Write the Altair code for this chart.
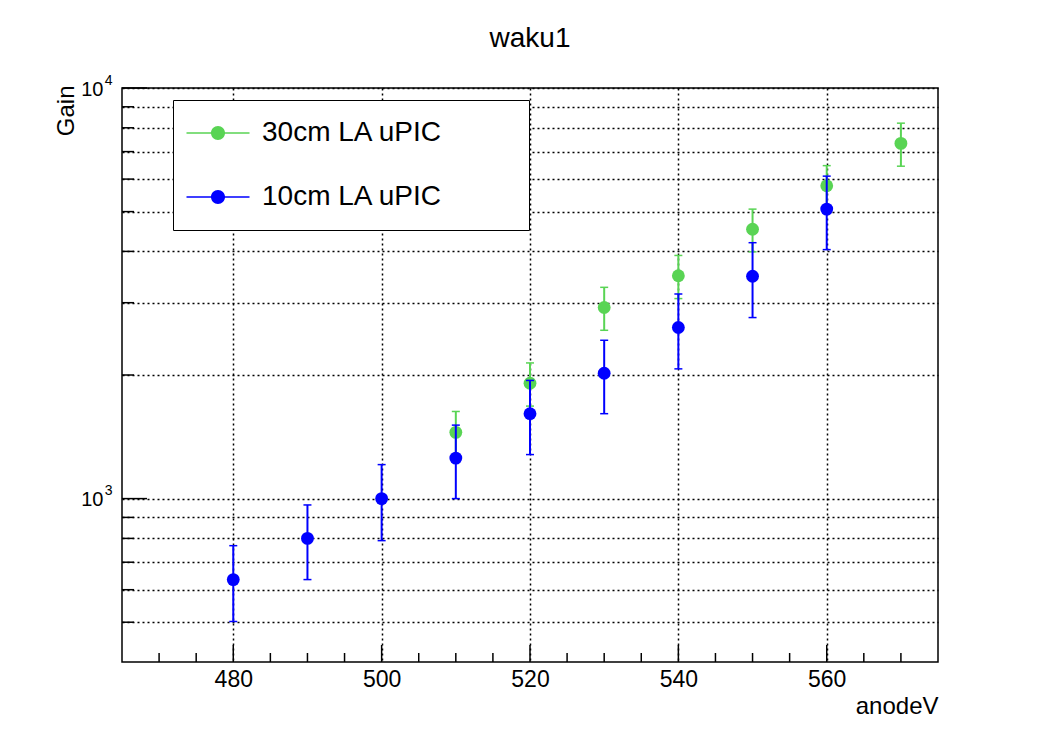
import altair as alt
import pandas as pd

# ---------------- data ----------------
series_names = ["30cm LA uPIC", "10cm LA uPIC"]
series_colors = ["#59D454", "#0000FF"]

volt_30 = [510, 520, 530, 540, 550, 560, 570]
gain_30 = [1450, 1910, 2920, 3490, 4530, 5780, 7330]
err_30 = [180, 230, 350, 420, 540, 690, 880]

volt_10 = [480, 490, 500, 510, 520, 530, 540, 550, 560]
gain_10 = [635, 800, 1000, 1255, 1610, 2020, 2610, 3480, 5070]
err_10 = [133, 165, 210, 255, 330, 410, 540, 720, 1030]

x_grid = [480, 500, 520, 540, 560]
x_minor = [470, 475, 485, 490, 495, 505, 510, 515, 525, 530, 535, 545, 550, 555, 565, 570]
y_grid = [500, 600, 700, 800, 900, 1000, 2000, 3000, 4000, 5000, 6000, 7000, 8000, 9000, 10000]
y_major = [1000, 10000]
y_minor = [500, 600, 700, 800, 900, 2000, 3000, 4000, 5000, 6000, 7000, 8000, 9000]
y_label_base = "10"
y_label_exp = {1000: "3", 10000: "4"}

W, H = 816, 574
FONT = "Liberation Sans"

xs = alt.Scale(domain=[465, 575], nice=False, zero=False)
ys = alt.Scale(type="log", domain=[400, 10000], nice=False)
cs = alt.Scale(domain=series_names, range=series_colors)

x_axis = alt.Axis(
    values=x_grid, grid=True, gridDash=[2, 3], gridColor="black", gridWidth=1.5, gridOpacity=1,
    ticks=False, domain=False, labelFontSize=23, labelFont=FONT, labelColor="black",
    labelPadding=6, labelFlush=False, format="d",
    title="anodeV", titleFont=FONT, titleFontSize=24, titleFontWeight="normal", titleColor="black",
    titleX=W, titleY=51, titleAlign="right", titleBaseline="alphabetic",
)
exp_expr = " : ".join(f"datum.value == {k} ? '{v}'" for k, v in y_label_exp.items()) + " : ''"
base_expr = " || ".join(f"datum.value == {k}" for k in y_label_exp) + f" ? '{y_label_base}' : ''"

y_axis = alt.Axis(
    orient="left",
    values=y_grid, grid=True, gridDash=[2, 3], gridColor="black", gridWidth=1.5, gridOpacity=1,
    ticks=False, domain=False, labelFontSize=20, labelFont=FONT, labelColor="black",
    labelPadding=19, labelFlush=False, labelOffset=1, labelExpr=base_expr,
    title="Gain", titleFont=FONT, titleFontSize=24, titleFontWeight="normal", titleColor="black",
    titleAngle=270, titleX=-49, titleY=-3, titleAlign="right", titleBaseline="alphabetic",
)
y_axis_exp = alt.Axis(
    orient="left",
    values=list(y_label_exp.keys()), grid=False,
    ticks=False, domain=False, labelFontSize=14, labelFont=FONT, labelColor="black",
    labelPadding=10, labelFlush=False, labelOffset=-8, labelExpr=exp_expr, title=None,
)


def frame(v, g, e, name):
    return pd.DataFrame({
        "V": v, "gain": g,
        "lo": [a - b for a, b in zip(g, e)],
        "hi": [a + b for a, b in zip(g, e)],
        "series": [name] * len(v),
    })


df30 = frame(volt_30, gain_30, err_30, series_names[0])
df10 = frame(volt_10, gain_10, err_10, series_names[1])

# legend symbol: short line with a filled circle in the middle (ROOT style)
LEG_SYMBOL = ("M-4.5,-0.11H-0.9V0.11H-4.5Z"
              "M0.9,-0.11H4.5V0.11H0.9Z"
              "M1,0A1,1,0,1,1,-1,0A1,1,0,1,1,1,0Z")

# an invisible (white on white) title on the right widens the box like ROOT's TLegend
legend = alt.Legend(
    orient="none", legendX=51, legendY=12,
    title="MM", titleOrient="right", titleColor="white", titleFontSize=28,
    titleFont=FONT, titlePadding=20,
    padding=19, rowPadding=36,
    labelFont=FONT, labelFontSize=28, labelColor="black", labelOffset=30, labelLimit=500,
    symbolType=LEG_SYMBOL, symbolSize=196, symbolStrokeWidth=0, symbolOffset=12, symbolOpacity=1,
    strokeColor="black", fillColor="white",
)


def series_layers(df, color):
    base = alt.Chart(df)
    X = alt.X("V:Q", scale=xs, axis=x_axis)
    bar = base.mark_rule(strokeWidth=2, color=color).encode(
        x=X, y=alt.Y("lo:Q", scale=ys, axis=None), y2="hi:Q")
    cap_lo = base.mark_rule(strokeWidth=1.5, xOffset=-4, x2Offset=4, color=color).encode(
        x=X, x2="V:Q", y=alt.Y("lo:Q", scale=ys, axis=None))
    cap_hi = base.mark_rule(strokeWidth=1.5, xOffset=-4, x2Offset=4, color=color).encode(
        x=X, x2="V:Q", y=alt.Y("hi:Q", scale=ys, axis=None))
    pts = base.mark_point(filled=True, size=165, opacity=1).encode(
        x=X, y=alt.Y("gain:Q", scale=ys, axis=None),
        color=alt.Color("series:N", scale=cs, legend=legend))
    return [bar, cap_lo, cap_hi, pts]


# inward tick marks (ROOT style)
xmaj = alt.Chart(pd.DataFrame({"t": x_grid})).mark_rule(color="black", strokeWidth=1.5).encode(
    x=alt.X("t:Q", scale=xs, axis=x_axis), y=alt.value(H), y2=alt.value(H - 17))
xmin = alt.Chart(pd.DataFrame({"t": x_minor})).mark_rule(color="black", strokeWidth=1.5).encode(
    x=alt.X("t:Q", scale=xs, axis=x_axis), y=alt.value(H), y2=alt.value(H - 9))
ymaj = alt.Chart(pd.DataFrame({"t": y_major})).mark_rule(color="black", strokeWidth=1.5).encode(
    y=alt.Y("t:Q", scale=ys, axis=y_axis), x=alt.value(0), x2=alt.value(25))
ymin = alt.Chart(pd.DataFrame({"t": y_minor})).mark_rule(color="black", strokeWidth=1.5).encode(
    y=alt.Y("t:Q", scale=ys, axis=y_axis_exp), x=alt.value(0), x2=alt.value(12))

layers = ([xmaj, xmin, ymaj, ymin]
          + series_layers(df30, series_colors[0])
          + series_layers(df10, series_colors[1]))

chart = alt.layer(*layers).resolve_axis(y="independent").properties(
    width=W, height=H,
    autosize=alt.AutoSizeParams(type="none"),
    padding={"left": 122, "top": 88, "right": 100, "bottom": 75},
    background="white",
    title=alt.TitleParams("waku1", font=FONT, fontSize=28, fontWeight="normal", color="black",
                          anchor="middle", frame="group", baseline="alphabetic", offset=-2),
).configure_view(
    stroke="black", strokeWidth=1.5
)

chart.save("out.html", embed_options={"renderer": "svg", "actions": False})
